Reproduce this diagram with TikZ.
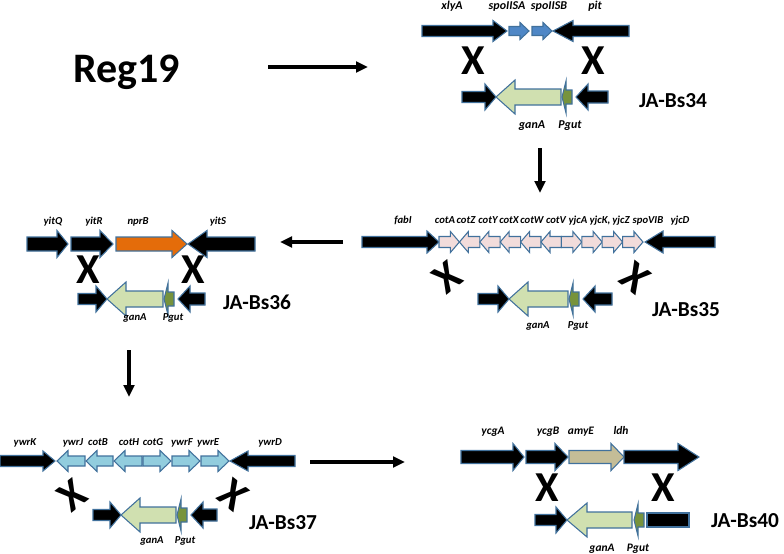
\documentclass[tikz,border=0pt]{standalone}
\usepackage{fontspec}
\setmainfont{Carlito}
\usetikzlibrary{arrows.meta}

\definecolor{GeneEdge}{RGB}{65,113,156}
\definecolor{SpoBlue}{RGB}{79,135,198}
\definecolor{CotPink}{RGB}{242,220,219}
\definecolor{YwrBlue}{RGB}{146,205,222}
\definecolor{GanGreen}{RGB}{208,224,176}
\definecolor{PgutGreen}{RGB}{119,147,60}
\definecolor{NprOrange}{RGB}{228,108,10}
\definecolor{AmyTan}{RGB}{196,189,151}

\tikzset{
  genblack/.style={fill=black,draw=GeneEdge,line width=0.8pt,line join=miter},
  genspo/.style={genblack,fill=SpoBlue},
  gencot/.style={genblack,fill=CotPink},
  genywr/.style={genblack,fill=YwrBlue},
  genganA/.style={genblack,fill=GanGreen},
  genpgut/.style={genblack,fill=PgutGreen},
  gennpr/.style={genblack,fill=NprOrange},
  genamy/.style={genblack,fill=AmyTan},
  glabel/.style={font=\bfseries\itshape\fontsize{8}{9}\selectfont,anchor=base,inner sep=0pt},
  glabelbig/.style={glabel,font=\bfseries\itshape\fontsize{9}{11}\selectfont},
  glabelmid/.style={glabel,font=\bfseries\itshape\fontsize{8.6}{10}\selectfont},
  strain/.style={font=\bfseries\fontsize{16}{18}\selectfont,inner sep=0pt},
  crossx/.style={font=\bfseries\fontsize{32}{34}\selectfont,inner sep=0pt},
  flow/.style={line width=2.6pt,-{Triangle[length=9pt,width=8pt]}}
}

% gene arrow: [style]{tail x}{head base x}{tip x}, row set by \gy, \gb, \gh
\newcommand{\gene}[4][genblack]{%
  \draw[#1] (#2,\gy-\gb) -- (#3,\gy-\gb) -- (#3,\gy-\gh) -- (#4,\gy)
    -- (#3,\gy+\gh) -- (#3,\gy+\gb) -- (#2,\gy+\gb) -- cycle;}
% cassette row: black, ganA, Pgut, black
\newcommand{\cassette}[4]{% #1 left x, #2 ganA tip, #3 ganA tail, #4 right tail
  \def\gb{5.5}\def\gh{13}
  \gene{#1}{#2-11}{#2}
  \def\gb{8}\def\gh{17}
  \gene[genganA]{#3}{#2+19}{#2}
  \def\gb{7}\def\gh{16}
  \gene[genpgut]{#3+11}{#3+5}{#3+1}
  \def\gb{6}\def\gh{13}
  \gene{#4}{#3+27}{#3+15}}

\begin{document}
\begin{tikzpicture}[x=0.75pt,y=0.75pt,yscale=-1,xscale=1]
\useasboundingbox (0,0) rectangle (784,553);

% Reg19 and first step
\node (reg) [anchor=base west,inner sep=0pt,font=\bfseries\fontsize{31.5}{34}\selectfont] at (73,82) {Reg19};
\coordinate (s1a) at (268,67);
\coordinate (s1b) at (368,67);
\draw[flow] (s1a) -- (s1b);

%% JA-Bs34
\def\gy{31}\def\gb{5.5}\def\gh{10.5}
\gene{422}{493}{507}
\gene{629}{573}{553}
\def\gb{4.5}\def\gh{8.5}
\gene[genspo]{509}{520}{529}
\gene[genspo]{532}{543}{552}
\node[glabelbig] (l34a) at (452,9) {xlyA};
\node[glabelbig] (l34b) at (507,9) {spoIISA};
\node[glabelbig] (l34c) at (549,9) {spoIISB};
\node[glabelbig] (l34d) at (595,9) {pit};
\node[crossx] (x34a) at (473,61) {X};
\node[crossx] (x34b) at (593,61) {X};
\def\gy{97}
\cassette{462}{496}{561}{608}
\node[glabelbig] (g34) at (532,128) {ganA};
\node[glabelbig] (p34) at (570,128) {Pgut};
\node[strain] (bs34) at (673,101) {JA-Bs34};

\coordinate (s2a) at (540,148);
\coordinate (s2b) at (540,193);
\draw[flow] (s2a) -- (s2b);

%% JA-Bs35
\def\gy{242}\def\gb{5.5}\def\gh{11}
\gene{362}{427}{439}
\gene{715}{663}{645}
\def\gb{5.5}\def\gh{10.5}
\foreach \i/\d in {0/1,1/-1,2/-1,3/-1,4/-1,5/-1,6/1,7/1,8/1,9/1}{
  \pgfmathsetmacro\xa{439+\i*20.4}
  \pgfmathsetmacro\xb{\xa+20.4}
  \ifnum\d=1
    \gene[gencot]{\xa}{\xb-9}{\xb}
  \else
    \gene[gencot]{\xb}{\xa+9}{\xa}
  \fi
}
\node[glabel] (l35a) at (403,223) {fabI};
\foreach \n/\x/\t in {b/445/cotA,c/466/cotZ,d/488/cotY,e/509/cotX,f/532/cotW,
    g/556/cotV,h/578/yjcA,i/600/{yjcK,},j/621/yjcZ,k/648/spoVIB,l/680/yjcD}
  \node[glabel] (l35\n) at (\x,223) {\t};
\node[crossx,rotate=38] (x35a) at (447,277) {X};
\node[crossx,rotate=-38] (x35b) at (635,278) {X};
\def\gy{299}
\cassette{478}{509}{568}{612}
\node[glabel] (g35) at (538,328) {ganA};
\node[glabel] (p35) at (578,328) {Pgut};
\node[strain] (bs35) at (686,310) {JA-Bs35};

\coordinate (s3a) at (343,242);
\coordinate (s3b) at (280,242);
\draw[flow] (s3a) -- (s3b);

%% JA-Bs36
\def\gy{244}\def\gb{7}\def\gh{13.5}
\gene{27}{57}{68}
\gene{71}{100}{113}
\gene[gennpr]{116}{172}{187}
\gene{255}{207}{188}
\node[glabel] (l36a) at (53,224) {yitQ};
\node[glabel] (l36b) at (94,224) {yitR};
\node[glabel] (l36c) at (138,224) {nprB};
\node[glabel] (l36d) at (218,224) {yitS};
\node[crossx] (x36a) at (88,270) {X};
\node[crossx] (x36b) at (193,270) {X};
\def\gy{299}
\cassette{78}{107}{163}{205}
\node[glabel] (g36) at (135,320) {ganA};
\node[glabel] (p36) at (173,320) {Pgut};
\node[strain] (bs36) at (257,302) {JA-Bs36};

\coordinate (s4a) at (129,350);
\coordinate (s4b) at (129,397);
\draw[flow] (s4a) -- (s4b);

%% JA-Bs37
\def\gy{461}\def\gb{5.5}\def\gh{10}
\gene{0}{43}{55}
\gene{295}{248}{230}
\def\gb{5}\def\gh{10.5}
\gene[genywr]{85}{68}{57}
\gene[genywr]{113}{97}{86}
\gene[genywr]{142}{125}{114}
\gene[genywr]{143}{160}{171}
\gene[genywr]{172}{189}{200}
\gene[genywr]{201}{218}{229}
\foreach \n/\x/\t in {a/25/ywrK,b/73/ywrJ,c/98/cotB,d/129/cotH,e/153/cotG,
    f/182/ywrF,g/208/ywrE,h/270/ywrD}
  \node[glabel] (l37\n) at (\x,445) {\t};
\node[crossx,rotate=38] (x37a) at (72,495) {X};
\node[crossx,rotate=-38] (x37b) at (233,495) {X};
\def\gy{515}
\cassette{93}{121}{176}{217}
\node[glabel] (g37) at (152,543) {ganA};
\node[glabel] (p37) at (185,543) {Pgut};
\node[strain] (bs37) at (283,523) {JA-Bs37};

\coordinate (s5a) at (310,462);
\coordinate (s5b) at (405,462);
\draw[flow] (s5a) -- (s5b);

%% JA-Bs40
\def\gy{457}\def\gb{6.5}\def\gh{13.5}
\gene{461}{513}{524}
\gene{526}{555}{568}
\gene[genamy]{569}{611}{624}
\gene{624}{678}{699}
\node[glabelmid] (l40a) at (493,434) {ycgA};
\node[glabelmid] (l40b) at (548,434) {ycgB};
\node[glabelmid] (l40c) at (581,434) {amyE};
\node[glabelmid] (l40d) at (621,434) {ldh};
\node[crossx] (x40a) at (547,488) {X};
\node[crossx] (x40b) at (663,488) {X};
\def\gy{520}\def\gb{5.5}\def\gh{13}
\gene{535}{556}{567}
\def\gb{8}\def\gh{17}
\gene[genganA]{632}{587}{567}
\def\gb{7}\def\gh{16}
\gene[genpgut]{644}{638}{634}
\draw[genblack] (647,513) rectangle (689,527);
\node[glabelmid] (g40) at (602,551) {ganA};
\node[glabelmid] (p40) at (638,551) {Pgut};
\node[strain] (bs40) at (745,521) {JA-Bs40};
\end{tikzpicture}
\end{document}
